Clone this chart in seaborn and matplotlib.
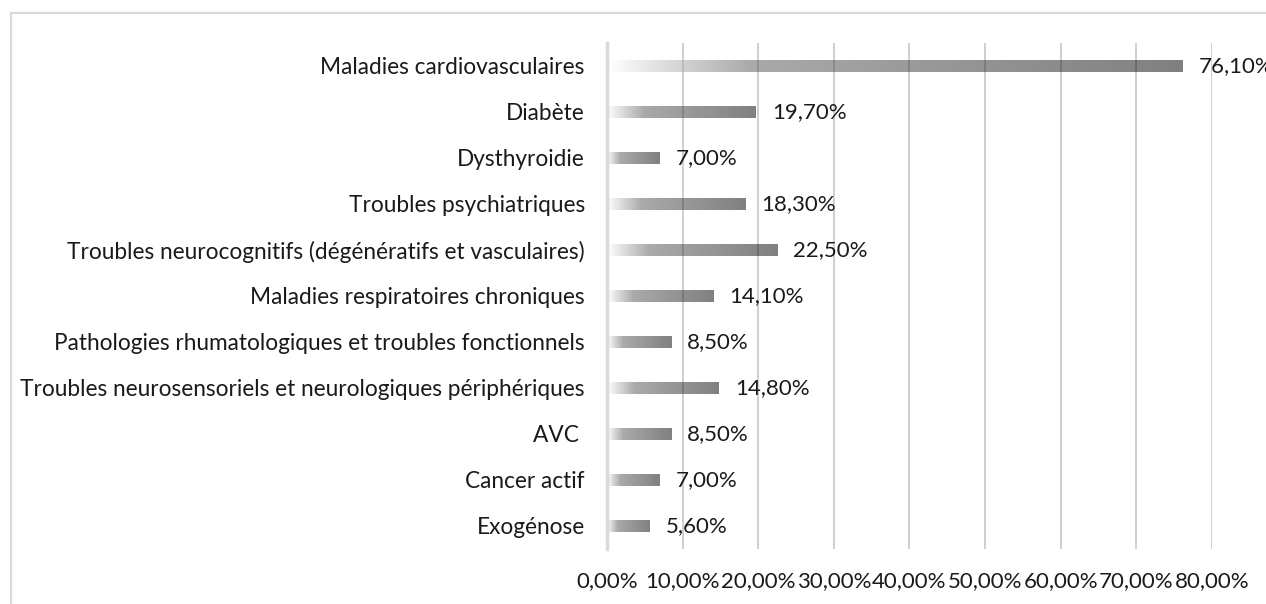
import numpy as np
import pandas as pd
import matplotlib
matplotlib.use("Agg")
import matplotlib.pyplot as plt
from matplotlib.colors import LinearSegmentedColormap
from matplotlib.patches import Rectangle
import seaborn as sns

categories = [
    "Maladies cardiovasculaires",
    "Diabète",
    "Dysthyroidie",
    "Troubles psychiatriques",
    "Troubles neurocognitifs (dégénératifs et vasculaires)",
    "Maladies respiratoires chroniques",
    "Pathologies rhumatologiques et troubles fonctionnels",
    "Troubles neurosensoriels et neurologiques périphériques",
    "AVC ",
    "Cancer actif",
    "Exogénose",
]
values = [76.1, 19.7, 7.0, 18.3, 22.5, 14.1, 8.5, 14.8, 8.5, 7.0, 5.6]
value_labels = ["76,10%", "19,70%", "7,00%", "18,30%", "22,50%", "14,10%",
                "8,50%", "14,80%", "8,50%", "7,00%", "5,60%"]
tick_values = [0, 10, 20, 30, 40, 50, 60, 70, 80]
tick_labels = ["0,00%", "10,00%", "20,00%", "30,00%", "40,00%",
               "50,00%", "60,00%", "70,00%", "80,00%"]

df = pd.DataFrame({"cat": categories, "val": values})

sns.set_theme(style="white")
plt.rcParams["font.family"] = ["Lato", "DejaVu Sans"]

W, H = 1266, 604
fig = plt.figure(figsize=(W / 100, H / 100), dpi=100)
ax = fig.add_axes([607 / W, 1 - 549 / H, (1212 - 607) / W, 506 / H])

sns.barplot(data=df, y="cat", x="val", orient="h", ax=ax, width=0.27,
            color="#999999", linewidth=0, zorder=3)

cmap = LinearSegmentedColormap.from_list(
    "g", [(0.0, "#ffffff"), (0.25, "#545454"), (1.0, "#000000")])
grad = np.linspace(0, 1, 256)[None, :]
for bar in list(ax.patches):
    x0, y0 = bar.get_x(), bar.get_y()
    w, h = bar.get_width(), bar.get_height()
    im = ax.imshow(grad, cmap=cmap, extent=[x0, x0 + w, y0 + h, y0],
                   aspect="auto", zorder=4, interpolation="bilinear", alpha=0.5)
    im.set_clip_path(bar)
    bar.set_facecolor("none")

ax.set_xlim(0, 80)
ax.set_ylim(len(categories) - 0.5, -0.5)

ax.set_xticks(tick_values)
ax.set_xticklabels(tick_labels)
ax.xaxis.grid(True, color="#cfcfcf", linewidth=1.4, zorder=1)
ax.set_axisbelow(True)
for s in ["top", "right", "bottom"]:
    ax.spines[s].set_visible(False)
ax.spines["left"].set_color("#d9d9d9")
ax.spines["left"].set_linewidth(2.5)
ax.spines["left"].set_zorder(5)
ax.tick_params(axis="x", length=0, pad=16, labelsize=16, labelcolor="#1a1a1a")
ax.tick_params(axis="y", length=0, pad=16, labelsize=16.3, labelcolor="#1a1a1a")
ax.set_xlabel("")
ax.set_ylabel("")

for i, (v, lab) in enumerate(zip(values, value_labels)):
    ax.annotate(lab, xy=(v, i), xytext=(11.5, 0), textcoords="offset points",
                va="center", ha="left", fontsize=16, color="#1a1a1a",
                annotation_clip=False, clip_on=False)

fig.patches.append(Rectangle((11 / W, -0.1), 1.2, 1 - 13 / H + 0.1,
                             transform=fig.transFigure, fill=False,
                             edgecolor="#d9d9d9", linewidth=1.5))

fig.savefig("out.png", dpi=100, facecolor="white")
